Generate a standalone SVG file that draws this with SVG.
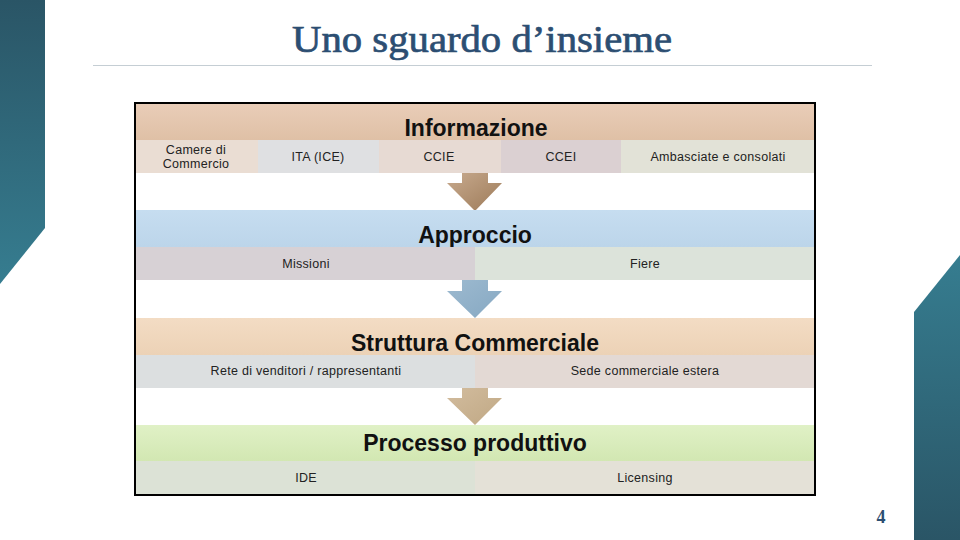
<svg xmlns="http://www.w3.org/2000/svg" width="960" height="540" viewBox="0 0 960 540">
<defs>
<linearGradient id="barL" x1="0" y1="0" x2="0" y2="1"><stop offset="0" stop-color="#2a5566"/><stop offset="1" stop-color="#367d90"/></linearGradient>
<linearGradient id="barR" x1="0" y1="0" x2="0" y2="1"><stop offset="0" stop-color="#367d90"/><stop offset="1" stop-color="#2a5566"/></linearGradient>
<linearGradient id="hInfo" x1="0" y1="0" x2="0" y2="1"><stop offset="0" stop-color="#e9cdb8"/><stop offset="1" stop-color="#dfc0a6"/></linearGradient>
<linearGradient id="hAppr" x1="0" y1="0" x2="0" y2="1"><stop offset="0" stop-color="#c6ddf0"/><stop offset="1" stop-color="#bcd5ea"/></linearGradient>
<linearGradient id="hStru" x1="0" y1="0" x2="0" y2="1"><stop offset="0" stop-color="#f3dcc4"/><stop offset="1" stop-color="#ecd2b6"/></linearGradient>
<linearGradient id="hProc" x1="0" y1="0" x2="0" y2="1"><stop offset="0" stop-color="#e0f1c6"/><stop offset="1" stop-color="#d2e7b2"/></linearGradient>
<linearGradient id="a1" x1="0" y1="0" x2="1" y2="1"><stop offset="0" stop-color="#c8aa8e"/><stop offset="1" stop-color="#9c7a58"/></linearGradient>
<linearGradient id="a2" x1="0" y1="0" x2="1" y2="1"><stop offset="0" stop-color="#9dbad0"/><stop offset="1" stop-color="#86a8c2"/></linearGradient>
<linearGradient id="a3" x1="0" y1="0" x2="1" y2="1"><stop offset="0" stop-color="#d2bc9e"/><stop offset="1" stop-color="#c0a884"/></linearGradient>
<style>
.hd{font-family:"Liberation Sans",Arial,sans-serif;font-weight:bold;font-size:23px;fill:#111;text-anchor:middle}
.sb{font-family:"Liberation Sans",Arial,sans-serif;font-size:12.5px;fill:#222;text-anchor:middle;letter-spacing:0.3px}
</style>
</defs>
<rect width="960" height="540" fill="#fff"/>
<polygon points="0,0 45,0 45,228 0,284" fill="url(#barL)"/>
<polygon points="914,312 960,255 960,540 914,540" fill="url(#barR)"/>
<text x="482" y="52" font-family="'Liberation Serif','Times New Roman',serif" font-size="38" fill="#2c4e72" stroke="#2c4e72" stroke-width="0.7" text-anchor="middle" textLength="380" lengthAdjust="spacingAndGlyphs">Uno sguardo d’insieme</text>
<line x1="93" y1="65.5" x2="872" y2="65.5" stroke="#c5ced4" stroke-width="1"/>
<text x="881" y="523" font-family="'Liberation Serif','Times New Roman',serif" font-weight="bold" font-size="18" fill="#2c4e72" text-anchor="middle">4</text>

<g id="connectors">
<polygon id="arrow1" points="462,173 488,173 488,183 502,183 475,211 447,183 462,183" fill="url(#a1)"/>
<polygon id="arrow2" points="462,280 488,280 488,291 502,291 475,318 447,291 462,291" fill="url(#a2)"/>
<polygon id="arrow3" points="462,388 488,388 488,398 502,398 475,425 447,398 462,398" fill="url(#a3)"/>
</g>

<g id="informazione">
<rect x="136" y="104" width="678" height="36" fill="url(#hInfo)"/>
<text class="hd" x="476" y="136">Informazione</text>
<rect x="136" y="140" width="122" height="33" fill="#eaddd3"/>
<rect x="258" y="140" width="121" height="33" fill="#dfe0e2"/>
<rect x="379" y="140" width="122" height="33" fill="#e7dad3"/>
<rect x="501" y="140" width="120" height="33" fill="#dbd0d2"/>
<rect x="621" y="140" width="193" height="33" fill="#e2e2d7"/>
<text class="sb" x="196" y="154">Camere di</text>
<text class="sb" x="196" y="168">Commercio</text>
<text class="sb" x="318" y="161">ITA (ICE)</text>
<text class="sb" x="439" y="161">CCIE</text>
<text class="sb" x="561" y="161">CCEI</text>
<text class="sb" x="718" y="161">Ambasciate e consolati</text>
</g>

<g id="approccio">
<rect x="136" y="210" width="678" height="37" fill="url(#hAppr)"/>
<text class="hd" x="475" y="243">Approccio</text>
<rect x="136" y="247" width="339" height="33" fill="#d7d1d5"/>
<rect x="475" y="247" width="339" height="33" fill="#dce3da"/>
<text class="sb" x="306" y="268">Missioni</text>
<text class="sb" x="645" y="268">Fiere</text>
</g>

<g id="struttura">
<rect x="136" y="318" width="678" height="37" fill="url(#hStru)"/>
<text class="hd" x="475" y="351">Struttura Commerciale</text>
<rect x="136" y="355" width="339" height="33" fill="#dcdfe0"/>
<rect x="475" y="355" width="339" height="33" fill="#e3d9d4"/>
<text class="sb" x="306" y="375">Rete di venditori / rappresentanti</text>
<text class="sb" x="645" y="375">Sede commerciale estera</text>
</g>

<g id="processo">
<rect x="136" y="425" width="678" height="36" fill="url(#hProc)"/>
<text class="hd" x="475" y="451">Processo produttivo</text>
<rect x="136" y="461" width="339" height="33" fill="#dce2d6"/>
<rect x="475" y="461" width="339" height="33" fill="#e4e1d7"/>
<text class="sb" x="306" y="482">IDE</text>
<text class="sb" x="645" y="482">Licensing</text>
</g>

<rect x="135" y="103" width="680" height="392" fill="none" stroke="#000" stroke-width="2"/>
</svg>
